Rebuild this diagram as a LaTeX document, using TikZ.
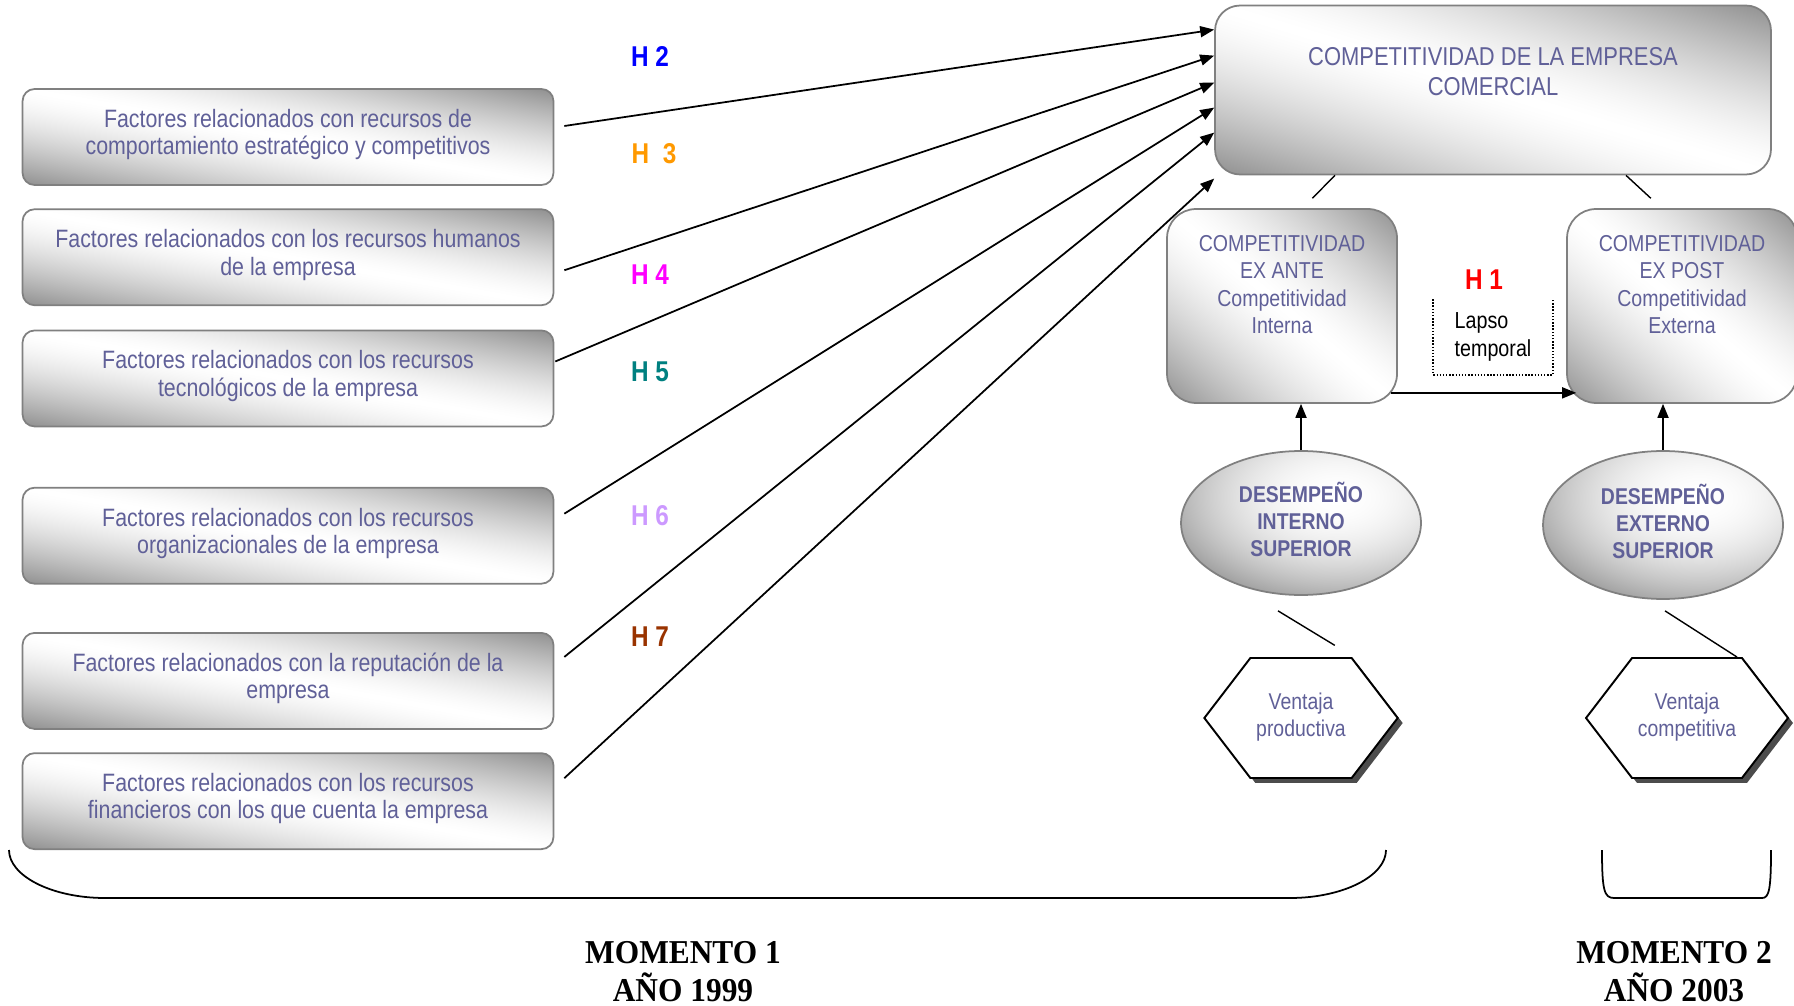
\documentclass[tikz,border=0pt]{standalone}
\usepackage{fontspec}
\setmainfont{Liberation Sans}[FakeStretch=0.85]
\newfontfamily\momfont{Liberation Serif}[FakeStretch=0.94]
\usetikzlibrary{positioning, shapes.geometric, shapes.symbols, shadows, arrows.meta}
\definecolor{txtblue}{RGB}{96,96,152}
\definecolor{hblue}{RGB}{0,0,255}
\definecolor{horange}{RGB}{255,153,0}
\definecolor{hmagenta}{RGB}{255,0,255}
\definecolor{hteal}{RGB}{0,128,128}
\definecolor{hlilac}{RGB}{204,153,255}
\definecolor{hbrown}{RGB}{153,51,0}
% gray corners (lower left, upper right), white across the other diagonal
\pgfdeclarefunctionalshading{boxshade}{\pgfpoint{0bp}{0bp}}{\pgfpoint{100bp}{100bp}}{}{
  add 50 sub 100 div 2 mul 1 sub abs dup 1 gt {pop 1} if
  dup sqrt mul 0.44 mul 1 exch sub dup dup}
% white spot upper right, gray rim
\pgfdeclarefunctionalshading{ovalshade}{\pgfpoint{0bp}{0bp}}{\pgfpoint{100bp}{100bp}}{}{
  59 sub dup mul exch 57.5 sub dup mul add 1600 div dup 1 gt {pop 1} if
  0.44 mul 1 exch sub dup dup}
\newcommand{\liftup}[1]{\rule[-#1]{0pt}{0pt}}

\begin{document}
\begin{tikzpicture}[x=0.02cm, y=-0.02cm,
        boxfill/.style={draw=gray, line width=1pt, shading=boxshade},
        factor/.style={boxfill, rounded corners=0.24cm, minimum width=10.62cm, minimum height=1.92cm, align=center, text=txtblue, font=\fontsize{14.3}{15.6}\selectfont},
        comp/.style={boxfill, align=center, text=txtblue},
        desemp/.style={ellipse, draw=gray, line width=1pt, shading=ovalshade, minimum width=4.8cm, inner sep=0pt, align=center, text=txtblue, font=\bfseries\fontsize{13}{15.6}\selectfont},
        ventaja/.style={signal, signal to=west and east, signal pointer angle=105, draw, line width=1.1pt, fill=white, minimum width=3.76cm, minimum height=2.4cm, align=center, text=txtblue, font=\fontsize{13}{15.6}\selectfont, drop shadow={shadow xshift=0.1cm, shadow yshift=-0.1cm, fill=gray!60!black, opacity=1}},
        hyp/.style={font=\bfseries\fontsize{16.3}{19}\selectfont},
        arr/.style={line width=1pt, -{Triangle[length=0.28cm, width=0.22cm]}},
        momento/.style={align=center, inner sep=0pt, anchor=base, font=\momfont\bfseries\fontsize{19}{21.5}\selectfont}]
    \useasboundingbox (0,0) rectangle (1794,1006);

    % factores
    \node[factor] (f1) at (288,137) {Factores relacionados con recursos de\\comportamiento estratégico y competitivos\liftup{0.2cm}};
    \node[factor, below=0.45cm of f1] (f2) {Factores relacionados con los recursos humanos\\de la empresa\liftup{0.2cm}};
    \node[factor, below=0.47cm of f2] (f3) {Factores relacionados con los recursos\\tecnológicos de la empresa\liftup{0.2cm}};
    \node[factor, below=1.19cm of f3] (f4) {Factores relacionados con los recursos\\organizacionales de la empresa\liftup{0.2cm}};
    \node[factor, below=0.95cm of f4] (f5) {Factores relacionados con la reputación de la\\empresa\liftup{0.2cm}};
    \node[factor, below=0.45cm of f5] (f6) {Factores relacionados con los recursos\\financieros con los que cuenta la empresa\liftup{0.2cm}};

    % competitividad
    \node[comp, rounded corners=0.5cm, minimum width=11.12cm, minimum height=3.38cm, font=\fontsize{14.7}{17.6}\selectfont] (empresa) at (1493,90) {COMPETITIVIDAD DE LA EMPRESA\\COMERCIAL\liftup{0.74cm}};
    \node[comp, rounded corners=0.58cm, minimum width=4.6cm, minimum height=3.88cm, font=\fontsize{13.1}{15.6}\selectfont] (exante) at (1282,306) {COMPETITIVIDAD\\EX ANTE\\Competitividad\\Interna\liftup{0.86cm}};
    \node[comp, rounded corners=0.58cm, minimum width=4.6cm, minimum height=3.88cm, font=\fontsize{13.1}{15.6}\selectfont] (expost) at (1682,306) {COMPETITIVIDAD\\EX POST\\Competitividad\\Externa\liftup{0.86cm}};
    \node[align=left, minimum width=2.38cm, minimum height=1.5cm, font=\fontsize{13.2}{15.6}\selectfont] (lapso) at (1493,337) {Lapso\\temporal};
    \draw[densely dotted, line width=0.8pt] (lapso.north west) -- (lapso.south west) -- (lapso.south east) -- (lapso.north east);

    \node[desemp, minimum height=2.88cm] (desint) at (1301,523) {DESEMPEÑO\\INTERNO\\SUPERIOR\liftup{0.15cm}};
    \node[desemp, minimum height=2.96cm] (desext) at (1663,525) {DESEMPEÑO\\EXTERNO\\SUPERIOR\liftup{0.15cm}};
    \node[ventaja] (vprod) at (1301,718) {Ventaja\\productiva\liftup{0.12cm}};
    \node[ventaja] (vcomp) at (1687,718) {Ventaja\\competitiva\liftup{0.12cm}};

    % hipotesis
    \node[hyp, text=red] (h1) at (1484,280) {H 1};
    \node[hyp, text=hblue] (h2) at (650,57) {H 2};
    \node[hyp, text=horange] (h3) at (654,154) {H \ 3};
    \node[hyp, text=hmagenta] (h4) at (650,275) {H 4};
    \node[hyp, text=hteal] (h5) at (650,372) {H 5};
    \node[hyp, text=hlilac] (h6) at (650,516) {H 6};
    \node[hyp, text=hbrown] (h7) at (650,637) {H 7};

    \draw[arr] ([xshift=0.2cm, yshift=0.22cm]f1.east) -- ([yshift=-0.5cm]empresa.north west);
    \draw[arr] ([xshift=0.2cm, yshift=-0.26cm]f2.east) -- ([yshift=-1.02cm]empresa.north west);
    \draw[arr] ([xshift=0.02cm, yshift=0.34cm]f3.east) -- ([yshift=-1.56cm]empresa.north west);
    \draw[arr] ([xshift=0.2cm, yshift=0.44cm]f4.east) -- ([yshift=-2.06cm]empresa.north west);
    \draw[arr] ([xshift=0.2cm, yshift=0.48cm]f5.east) -- ([yshift=-2.56cm]empresa.north west);
    \draw[arr] ([xshift=0.2cm, yshift=0.46cm]f6.east) -- ([yshift=-3.48cm]empresa.north west);

    \draw[line width=0.8pt, shorten >=0.28cm] ([xshift=-3.16cm]empresa.south) -- ([xshift=0.41cm]exante.north);
    \draw[line width=0.8pt, shorten >=0.29cm] ([xshift=2.66cm]empresa.south) -- ([xshift=-0.41cm]expost.north);
    \draw[arr] ([xshift=-0.14cm, yshift=0.22cm]exante.south east) -- ([xshift=0.2cm, yshift=0.22cm]expost.south west);
    \draw[arr] (desint.north) -- (desint.north |- exante.south);
    \draw[arr] (desext.north) -- (desext.north |- expost.south);
    \draw[line width=0.8pt, shorten >=0.45cm] ([xshift=-0.46cm, yshift=-0.3cm]desint.south) -- ([xshift=1.06cm]vprod.north);
    \draw[line width=0.8pt] ([xshift=0.04cm, yshift=-0.22cm]desext.south) -- ([xshift=1cm]vcomp.north);

    % momentos
    \draw[line width=1pt] (9,850) .. controls (9,876) and (52,898) .. (105,898) -- (1290,898) .. controls (1343,898) and (1386,876) .. (1386,850);
    \draw[line width=1pt] (1602,850) .. controls (1602,890) and (1604,898) .. (1614,898) -- (1762,898) .. controls (1769,898) and (1771,890) .. (1771,850);
    \node[momento] (m1) at (683,1001) {MOMENTO 1\\AÑO 1999};
    \node[momento] (m2) at (1674,1001) {MOMENTO 2\\AÑO 2003};
\end{tikzpicture}
\end{document}
